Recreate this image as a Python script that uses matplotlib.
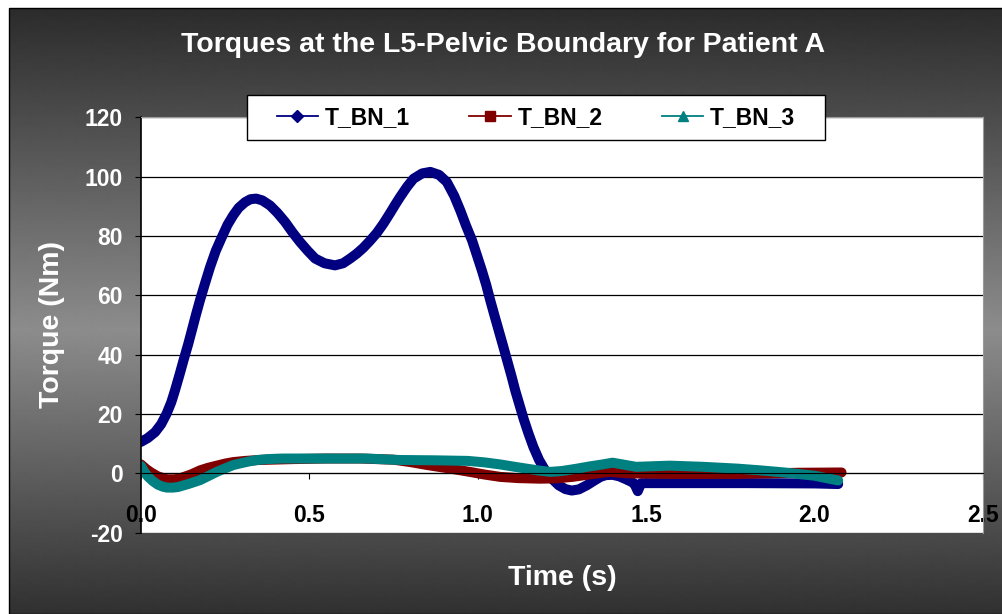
import numpy as np
import matplotlib
matplotlib.use("Agg")
import matplotlib.pyplot as plt
from matplotlib.lines import Line2D
from matplotlib.patches import Rectangle

plt.rcParams['font.family'] = ['Liberation Sans', 'DejaVu Sans']
plt.rcParams['font.weight'] = 'bold'
plt.rcParams['axes.unicode_minus'] = False

# T_BN_1
t1 = [0.0, 0.02, 0.042, 0.06, 0.076, 0.09, 0.101, 0.115, 0.126, 0.14, 0.151, 0.163,
      0.175, 0.19, 0.205, 0.222, 0.24, 0.257, 0.274, 0.29, 0.309, 0.325, 0.342, 0.36,
      0.383, 0.405, 0.428, 0.45, 0.472, 0.495, 0.517, 0.545, 0.576, 0.60, 0.621, 0.64,
      0.66, 0.68, 0.70, 0.72, 0.74, 0.755, 0.769, 0.79, 0.809, 0.835, 0.859, 0.885,
      0.908, 0.93, 0.948, 0.965, 0.983, 1.0, 1.012, 1.025, 1.037, 1.05, 1.062, 1.075,
      1.087, 1.10, 1.111, 1.124, 1.136, 1.15, 1.165, 1.182, 1.20, 1.22, 1.24, 1.26,
      1.279, 1.30, 1.324, 1.345, 1.364, 1.38, 1.40, 1.42, 1.44, 1.455, 1.465, 1.475,
      1.485, 1.6, 1.8, 2.0, 2.07]
v1 = [10.6, 11.9, 13.9, 16.6, 20.1, 24.0, 28.0, 33.5, 38.0, 43.5, 48.2, 53.4,
      58.3, 64.0, 69.5, 75.0, 79.6, 83.8, 87.0, 89.5, 91.4, 92.4, 92.6, 92.0,
      90.3, 87.8, 84.7, 81.2, 78.0, 75.0, 72.4, 70.8, 70.1, 70.8, 72.4, 74.0,
      76.0, 78.4, 81.0, 84.2, 87.8, 90.6, 93.1, 96.6, 99.3, 101.1, 101.6, 100.6,
      98.2, 93.5, 88.6, 83.5, 78.5, 72.6, 68.4, 63.5, 58.3, 53.0, 48.2, 43.0,
      38.1, 32.8, 28.0, 23.0, 18.4, 13.6, 8.9, 4.5, 1.0, -1.8, -4.0, -5.3,
      -5.8, -5.4, -4.0, -2.5, -1.2, -0.6, -0.5, -1.0, -2.0, -2.8, -3.5, -6.0,
      -3.3, -3.3, -3.3, -3.4, -3.6]

# T_BN_2
t2 = [0.0, 0.015, 0.03, 0.05, 0.077, 0.10, 0.12, 0.15, 0.175, 0.20, 0.225, 0.25,
      0.274, 0.31, 0.35, 0.45, 0.55, 0.65, 0.75, 0.80, 0.85, 0.918, 0.976, 1.02,
      1.067, 1.12, 1.185, 1.23, 1.28, 1.33, 1.39, 1.45, 1.57, 1.77, 1.95, 2.08]
v2 = [3.0, 1.5, 0.3, -1.0, -2.0, -2.0, -1.5, -0.3, 1.0, 1.9, 2.6, 3.3,
      3.8, 4.2, 4.5, 4.8, 5.0, 5.0, 4.6, 3.8, 2.8, 1.6, 0.5, -0.4,
      -1.2, -1.6, -1.8, -1.7, -1.2, -0.4, 0.5, 0.0, -0.2, -0.2, 0.2, 0.3]

# T_BN_3
t3 = [0.0, 0.01, 0.02, 0.035, 0.05, 0.065, 0.077, 0.095, 0.11, 0.14, 0.175, 0.20,
      0.225, 0.25, 0.274, 0.30, 0.32, 0.345, 0.373, 0.42, 0.472, 0.57, 0.67, 0.77,
      0.87, 0.97, 1.02, 1.067, 1.11, 1.15, 1.185, 1.215, 1.25, 1.29, 1.33, 1.37,
      1.40, 1.435, 1.47, 1.57, 1.67, 1.77, 1.84, 1.91, 2.0, 2.07]
v3 = [2.5, 0.5, -1.0, -2.6, -3.8, -4.5, -4.8, -4.8, -4.6, -3.6, -2.3, -0.9,
      0.5, 1.7, 2.8, 3.5, 4.0, 4.5, 4.8, 5.0, 5.0, 5.0, 5.0, 4.5,
      4.4, 4.2, 3.7, 3.0, 2.2, 1.5, 0.9, 0.5, 0.8, 1.5, 2.3, 3.0,
      3.6, 2.9, 2.2, 2.6, 2.2, 1.6, 1.0, 0.3, -0.8, -2.4]

series_names = ['T_BN_1', 'T_BN_2', 'T_BN_3']
colors = ['#000080', '#800000', '#008080']
markers = ['D', 's', '^']

W, H = 1003, 614
fig = plt.figure(figsize=(W / 100, H / 100), dpi=100, facecolor='white')

# gray gradient backdrop
bg = fig.add_axes([0, 0, 1, 1], zorder=-10)
bg.axis('off')
bg.set_xlim(0, W)
bg.set_ylim(H, 0)
rows = np.arange(8, H)
shade = np.interp(rows, [8, 330, H], [0.17, 0.55, 0.19])
bg.imshow(shade[:, None], extent=(9, W, H, 8), aspect='auto', cmap='gray',
          vmin=0, vmax=1, interpolation='bilinear')
bg.add_patch(Rectangle((9, 8), W - 9, H - 8, fill=False, edgecolor='black', lw=1))

ax = fig.add_axes([141 / W, 1 - 532.7 / H, (983 - 141) / W, (532.7 - 117.3) / H])
ax.set_facecolor('white')

for t, v, c in zip([t1, t2, t3], [v1, v2, v3], colors):
    ax.plot(t, v, color=c, lw=7.2, solid_capstyle='round', solid_joinstyle='round')

ax.set_xlim(0, 2.5)
ax.set_ylim(-20, 120)
ax.set_xticks(np.arange(0, 2.51, 0.5))
ax.set_xticklabels([f'{x:.1f}' for x in np.arange(0, 2.51, 0.5)])
ax.set_yticks(np.arange(-20, 121, 20))
ax.grid(axis='y', color='black', lw=0.9)
ax.set_axisbelow(True)

ax.spines['bottom'].set_position(('data', 0))
ax.spines['bottom'].set_color('black')
ax.spines['left'].set_color('black')
ax.spines['left'].set_linewidth(1.2)
for s in ['top', 'right']:
    ax.spines[s].set_color('#9a9a9a')
ax.tick_params(axis='x', direction='out', length=4, pad=18, labelsize=16.5,
               labelcolor='black')
ax.tick_params(axis='y', direction='out', length=4, pad=9, labelsize=16.5,
               labelcolor='white')
for lab in ax.get_xticklabels() + ax.get_yticklabels():
    lab.set_fontweight('bold')

fig.text(503 / W, 1 - 45 / H, 'Torques at the L5-Pelvic Boundary for Patient A',
         ha='center', va='center', color='white', fontsize=20.5, fontweight='bold')
fig.text(52 / W, 1 - 324 / H, 'Torque (Nm)', rotation=90, ha='center', va='center',
         color='white', fontsize=20.5, fontweight='bold')
fig.text(562 / W, 1 - 578 / H, 'Time (s)', ha='center', va='center',
         color='white', fontsize=20.5, fontweight='bold')

# legend box
fig.patches.append(Rectangle((247 / W, 1 - 140 / H), (825 - 247) / W, 45 / H,
                             transform=fig.transFigure, facecolor='white',
                             edgecolor='black', lw=1, zorder=5))
handles = [Line2D([], [], color=c, marker=m, markersize=6.5, lw=1.3)
           for c, m in zip(colors, markers)]
fig.legend(handles, series_names, loc='center', bbox_to_anchor=(536 / W, 1 - 117.5 / H),
           ncol=3, frameon=False, handlelength=1.8, handletextpad=0.3,
           columnspacing=2.6, prop={'weight': 'bold', 'size': 16.5})

fig.savefig('out.png', dpi=100)
